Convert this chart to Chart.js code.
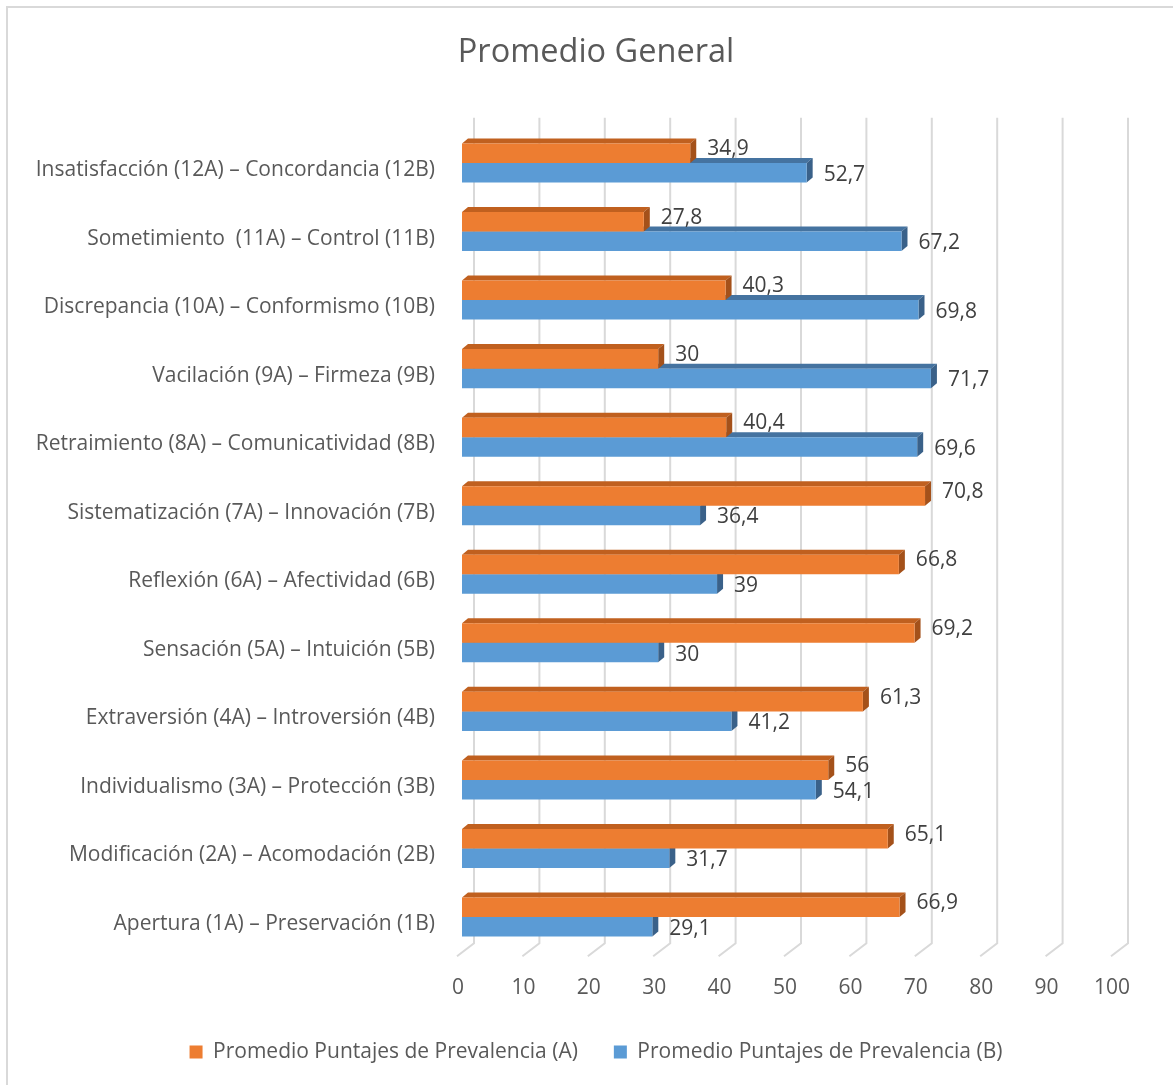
<!DOCTYPE html>
<html lang="es">
<head>
<meta charset="UTF-8">
<title>Promedio General</title>
<script src="https://cdn.jsdelivr.net/npm/chart.js"></script>
<style>
    html, body { margin: 0; padding: 0; background: #fff; }
    canvas { display: block; }
</style>
</head>
<body>
<canvas id="promedioChart" width="1173" height="1085"></canvas>
<script>
    // Datos (de arriba hacia abajo, como en el gráfico)
    const categorias = [
        'Insatisfacción (12A) – Concordancia (12B)',
        'Sometimiento  (11A) – Control (11B)',
        'Discrepancia (10A) – Conformismo (10B)',
        'Vacilación (9A) – Firmeza (9B)',
        'Retraimiento (8A) – Comunicatividad (8B)',
        'Sistematización (7A) – Innovación (7B)',
        'Reflexión (6A) – Afectividad (6B)',
        'Sensación (5A) – Intuición (5B)',
        'Extraversión (4A) – Introversión (4B)',
        'Individualismo (3A) – Protección (3B)',
        'Modificación (2A) – Acomodación (2B)',
        'Apertura (1A) – Preservación (1B)'
    ];
    const puntajesA = [34.9, 27.8, 40.3, 30, 40.4, 70.8, 66.8, 69.2, 61.3, 56, 65.1, 66.9];
    const puntajesB = [52.7, 67.2, 69.8, 71.7, 69.6, 36.4, 39, 30, 41.2, 54.1, 31.7, 29.1];
    const ejeMin = 0;
    const ejeMax = 100;
    const ejePaso = 10;

    const fuente = '"Open Sans", sans-serif';
    const gris = '#595959';

    // caras 3D: [A, B]
    const caraSuperior = ['#C0601F', '#4573A0'];
    const caraLateral = ['#A4511A', '#3A6189'];
    const prof = { dx: 6, dy: 5 };

    const formatear = v => String(v).replace('.', ',');

    const marco = {
        id: 'marco',
        beforeDraw(chart) {
            const ctx = chart.ctx;
            ctx.save();
            ctx.strokeStyle = '#d9d9d9';
            ctx.lineWidth = 2;
            ctx.strokeRect(7, 7, 1200, 1100);
            ctx.restore();
        }
    };

    const rejilla3d = {
        id: 'rejilla3d',
        beforeDatasetsDraw(chart) {
            const ctx = chart.ctx;
            const xs = chart.scales.x;
            const area = chart.chartArea;
            ctx.save();
            // lineas de la pared del fondo + suelo
            ctx.strokeStyle = '#d9d9d9';
            ctx.lineWidth = 2;
            xs.ticks.forEach(t => {
                const xf = xs.getPixelForValue(t.value);
                ctx.beginPath();
                ctx.moveTo(xf + 12, area.top - 11);
                ctx.lineTo(xf + 12, area.bottom - 8);
                ctx.lineTo(xf - 5, area.bottom + 5);
                ctx.stroke();
            });
            // caras superior y lateral (B primero, A encima)
            [1, 0].forEach(i => {
                const meta = chart.getDatasetMeta(i);
                meta.data.forEach(bar => {
                    const { x, y, base, height } = bar.getProps(['x', 'y', 'base', 'height'], true);
                    const top = y - height / 2;
                    const bottom = y + height / 2;
                    ctx.fillStyle = caraSuperior[i];
                    ctx.beginPath();
                    ctx.moveTo(base, top);
                    ctx.lineTo(x, top);
                    ctx.lineTo(x + prof.dx, top - prof.dy);
                    ctx.lineTo(base + prof.dx, top - prof.dy);
                    ctx.closePath();
                    ctx.fill();
                    ctx.fillStyle = caraLateral[i];
                    ctx.beginPath();
                    ctx.moveTo(x, top);
                    ctx.lineTo(x + prof.dx, top - prof.dy);
                    ctx.lineTo(x + prof.dx, bottom - prof.dy);
                    ctx.lineTo(x, bottom);
                    ctx.closePath();
                    ctx.fill();
                });
            });
            ctx.restore();
        }
    };

    const etiquetas = {
        id: 'etiquetas',
        afterDatasetsDraw(chart) {
            const ctx = chart.ctx;
            const desplaz = [-4, 2];
            ctx.save();
            ctx.font = '21px ' + fuente;
            ctx.fillStyle = '#404040';
            ctx.textAlign = 'left';
            ctx.textBaseline = 'middle';
            chart.data.datasets.forEach((ds, i) => {
                chart.getDatasetMeta(i).data.forEach((bar, j) => {
                    ctx.fillText(formatear(ds.data[j]), bar.x + 17, bar.y + desplaz[i]);
                });
            });
            ctx.restore();
        }
    };

    new Chart(document.getElementById('promedioChart').getContext('2d'), {
        type: 'bar',
        data: {
            labels: categorias,
            datasets: [{
                label: 'Promedio Puntajes de Prevalencia (A)',
                data: puntajesA,
                backgroundColor: '#ED7D31'
            }, {
                label: 'Promedio Puntajes de Prevalencia (B)',
                data: puntajesB,
                backgroundColor: '#5B9BD5'
            }]
        },
        options: {
            indexAxis: 'y',
            responsive: false,
            animation: false,
            devicePixelRatio: 1,
            categoryPercentage: 0.57,
            barPercentage: 1,
            layout: { padding: { left: 19, right: 0, top: 0, bottom: 12.5 } },
            scales: {
                x: {
                    min: ejeMin,
                    max: ejeMax,
                    ticks: { stepSize: ejePaso, color: gris, font: { family: fuente, size: 21 }, padding: 24, labelOffset: -4 },
                    grid: { display: false, drawTicks: false },
                    border: { display: false },
                    afterFit: s => { s.height = 54.2; s.paddingRight = 57; }
                },
                y: {
                    ticks: { color: gris, font: { family: fuente, size: 21 }, padding: 27, labelOffset: 7 },
                    grid: { display: false, drawTicks: false },
                    border: { display: false },
                    afterFit: s => { s.width = 443; }
                }
            },
            plugins: {
                title: {
                    display: true,
                    text: 'Promedio General',
                    color: gris,
                    font: { family: fuente, size: 32.5, weight: 'normal' },
                    padding: { top: 33, bottom: 56.7 }
                },
                legend: {
                    position: 'bottom',
                    labels: { boxWidth: 13, boxHeight: 13, padding: 36, color: gris, font: { family: fuente, size: 21 } }
                },
                tooltip: { enabled: false }
            }
        },
        plugins: [marco, rejilla3d, etiquetas]
    });
</script>
</body>
</html>
